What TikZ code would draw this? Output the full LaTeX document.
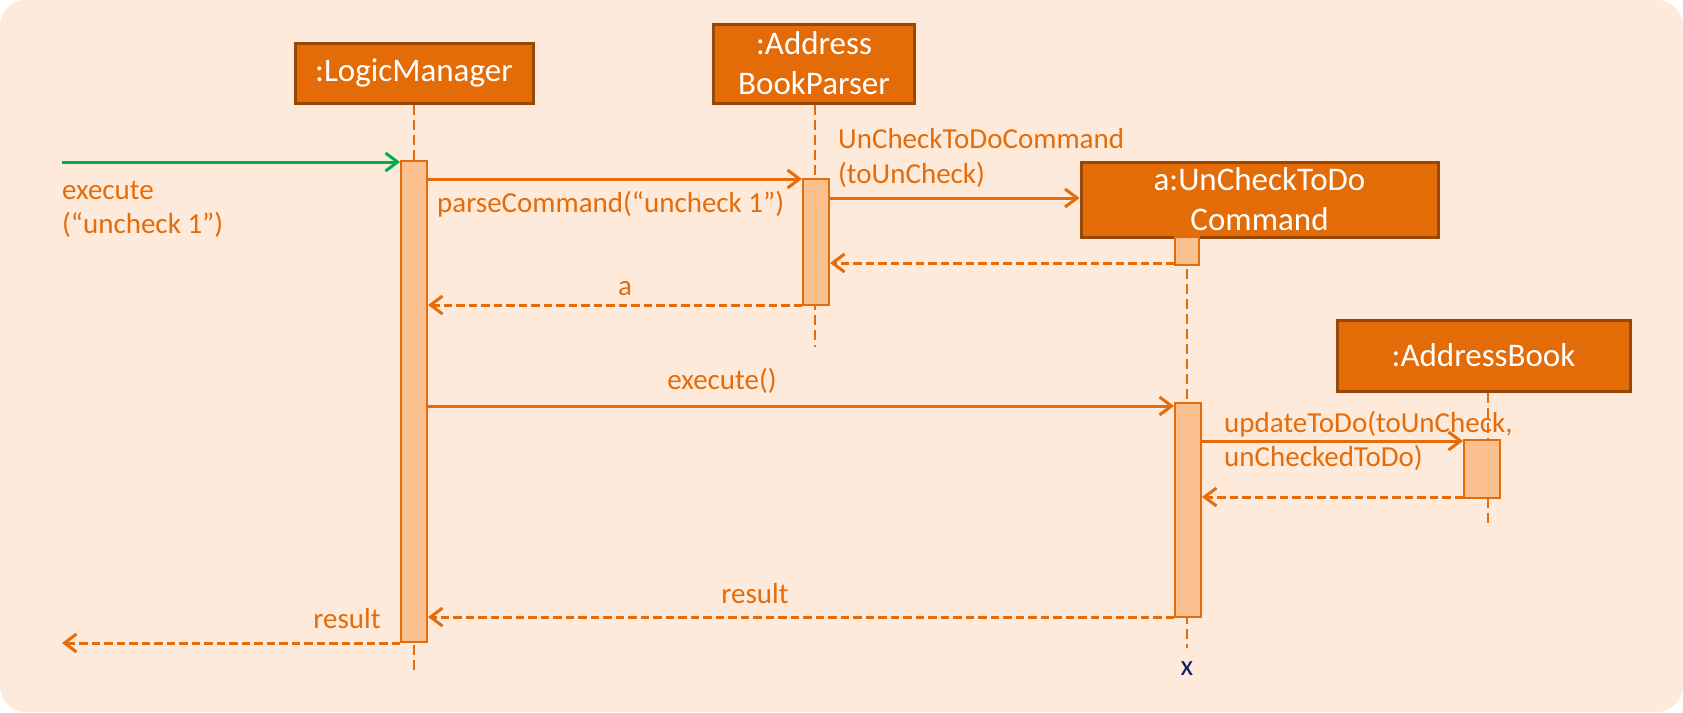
\documentclass[tikz,border=0pt]{standalone}
\usepackage{fontspec}
\setmainfont{Carlito}
\usetikzlibrary{arrows.meta}
\definecolor{bgc}{HTML}{FDEADA}
\definecolor{boxfill}{HTML}{E36C09}
\definecolor{boxline}{HTML}{984806}
\definecolor{actfill}{HTML}{FAC08F}
\definecolor{lnc}{HTML}{E46C0A}
\definecolor{grn}{HTML}{00B050}
\definecolor{navy}{HTML}{0D1F5C}
\newcommand{\objfont}{\fontsize{33}{40}\selectfont}
\newcommand{\msgfont}{\fontsize{29}{35}\selectfont}
\tikzset{
  obj/.style={draw=boxline, fill=boxfill, line width=3pt, text=white, font=\objfont, align=center, inner sep=0pt},
  act/.style={draw=lnc, fill=actfill, line width=2pt, inner sep=0pt, minimum width=26pt},
  life/.style={draw=lnc, line width=2.6pt, dash pattern=on 10pt off 5pt},
  msg/.style={draw=lnc, line width=3pt, -{Straight Barb[length=12pt,width=18pt]}},
  ret/.style={msg, dash pattern=on 8.5pt off 4pt},
  lab/.style={text=lnc, font=\msgfont, inner sep=0pt}
}
\begin{document}
\begin{tikzpicture}[x=1pt,y=-1pt]
\useasboundingbox (0,0) rectangle (1683,712);
\fill[bgc, rounded corners=26pt] (0,0) rectangle (1683,712);

% objects
\node[obj, minimum width=238pt, minimum height=60pt] (lm) at (414,73) {:LogicManager};
\node[obj, minimum width=201pt, minimum height=79pt] (abp) at (814,63.5) {:Address\\BookParser};
\node[obj, minimum width=357pt, minimum height=75pt] (uc) at (1259.5,199.5) {a:UnCheckToDo\\Command};
\node[obj, minimum width=293pt, minimum height=71pt] (ab) at (1483.5,355.5) {:AddressBook};

% lifeline ends
\coordinate (lmEnd) at (414,674);
\coordinate (abpEnd) at (815,347);
\coordinate (ucEnd) at (1187,648);
\coordinate (abEnd) at (1488,527);

\draw[life] (lm.south) -- (lmEnd);
\draw[life] (abp.south -| abpEnd) -- (abpEnd);
\draw[life] (uc.south -| ucEnd) -- (ucEnd);
\draw[life] (ab.south -| abEnd) -- (abEnd);

% activations
\node[act, minimum height=481pt] (lmA) at (414,401.5) {};
\node[act, minimum height=126pt] (abpA) at (816,242) {};
\node[act, minimum width=24pt, minimum height=28pt] (ucA1) at (1187,251) {};
\node[act, minimum height=214pt] (ucA2) at (1188,510) {};
\node[act, minimum width=36pt, minimum height=58pt] (abA) at (1482,469) {};

% messages
\coordinate (src) at (62,162);
\coordinate (snk) at (62,643);
\draw[msg, draw=grn] (src) -- (lmA.west |- src);
\draw[msg] (lmA.east |- 0,179) -- (abpA.west |- 0,179);
\draw[msg] (abpA.east |- 0,198) -- (uc.west |- 0,198);
\draw[ret] (ucA1.west |- 0,263) -- (abpA.east |- 0,263);
\draw[ret] (abpA.west |- 0,305) -- (lmA.east |- 0,305);
\draw[msg] (lmA.east |- 0,406) -- (ucA2.west |- 0,406);
\draw[msg] (ucA2.east |- 0,441) -- (abA.west |- 0,441);
\draw[ret] (abA.west |- 0,497) -- (ucA2.east |- 0,497);
\draw[ret] (ucA2.west |- 0,617) -- (lmA.east |- 0,617);
\draw[ret] (lmA.west |- snk) -- (snk);

% labels
\node[lab, anchor=base west] (t1) at (62,199) {execute};
\node[lab, anchor=base west] (t2) at (62,233) {(“uncheck 1”)};
\node[lab, anchor=base west] (t3) at (437,212) {parseCommand(“uncheck 1”)};
\node[lab, anchor=base west] (t4) at (838,148) {UnCheckToDoCommand};
\node[lab, anchor=base west] (t5) at (838,183) {(toUnCheck)};
\node[lab, anchor=base] (t6) at (625,295) {a};
\node[lab, anchor=base] (t7) at (722,389) {execute()};
\node[lab, anchor=base west] (t8) at (1224,432) {updateToDo(toUnCheck,};
\node[lab, anchor=base west] (t9) at (1224,466) {unCheckedToDo)};
\node[lab, anchor=base] (t10) at (755,603) {result};
\node[lab, anchor=base] (t11) at (347,628) {result};
\node[lab, text=navy, anchor=base] (t12) at (1187,675) {x};
\end{tikzpicture}
\end{document}
